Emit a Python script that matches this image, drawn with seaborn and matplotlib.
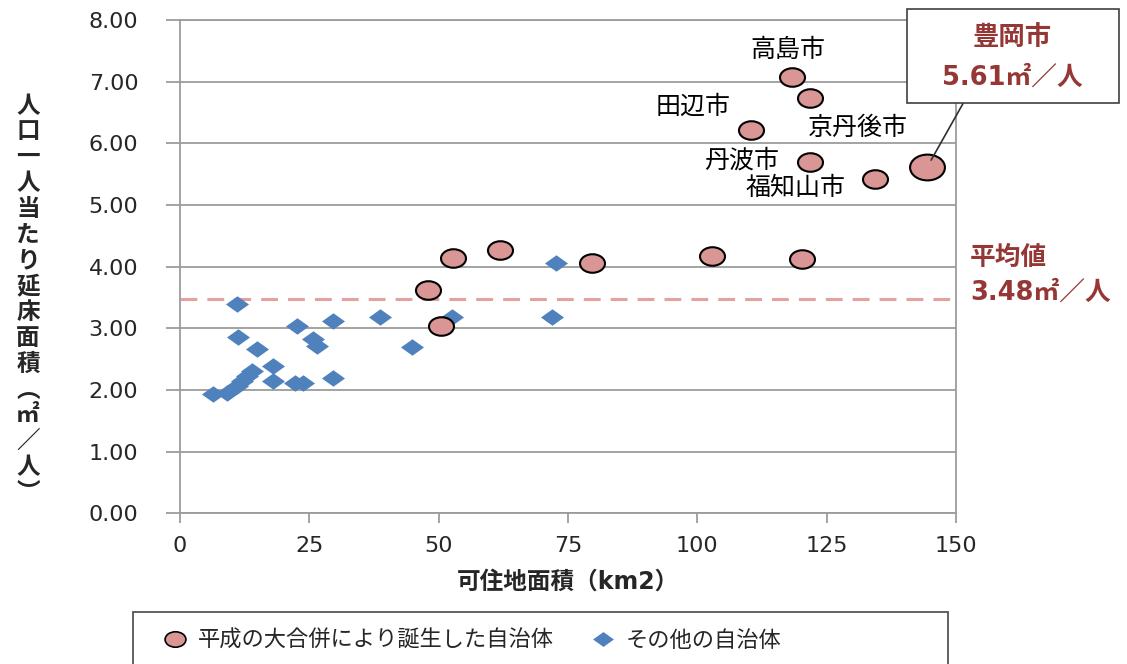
import numpy as np
import pandas as pd
import matplotlib
matplotlib.use('Agg')
import matplotlib.pyplot as plt
from matplotlib.path import Path
from matplotlib.transforms import Affine2D
from matplotlib.patches import Rectangle
from matplotlib.lines import Line2D
import seaborn as sns

# 平成の大合併により誕生した自治体 (可住地面積 km2, 一人当たり延床面積 ㎡/人)
merged_area = [47.9, 50.5, 52.8, 61.9, 79.6, 102.8, 120.2, 118.3, 121.8, 110.4, 121.8, 134.4]
merged_floor = [3.62, 3.03, 4.14, 4.27, 4.06, 4.17, 4.12, 7.08, 6.74, 6.21, 5.70, 5.42]
merged_names = ['', '', '', '', '', '', '', '高島市', '京丹後市', '田辺市', '丹波市', '福知山市']

# 豊岡市
toyooka_area = 144.4
toyooka_floor = 5.61

# その他の自治体
other_area = [6.4, 9.0, 11.0, 11.9, 12.9, 13.9, 18.0, 18.0, 22.2, 23.8, 29.6,
              11.0, 11.3, 14.8, 22.6, 25.8, 26.4, 29.6, 38.7, 44.8, 52.6, 71.9, 72.7]
other_floor = [1.93, 1.95, 2.06, 2.14, 2.22, 2.30, 2.39, 2.14, 2.12, 2.12, 2.20,
               3.40, 2.86, 2.66, 3.03, 2.83, 2.71, 3.12, 3.18, 2.69, 3.18, 3.18, 4.06]

avg_floor = 3.48

x_ticks = [0, 25, 50, 75, 100, 125, 150]
y_ticks = [0, 1, 2, 3, 4, 5, 6, 7, 8]

# label offsets in pixels from each point
label_offsets = {'高島市': (-4, 27), '京丹後市': (48, -30), '田辺市': (-58, 24),
                 '丹波市': (-69, 1), '福知山市': (-80, -9)}

PINK = '#D99694'
BLUE = '#4F81BD'
DARKRED = '#953735'
GRAY = '#9c9c9c'

sns.set_style('white')
plt.rcParams['font.family'] = ['DejaVu Sans', 'Noto Sans CJK JP']

# stretched markers (the reference is slightly wide)
ellipse = Affine2D().scale(1.35, 1.0).transform_path(Path.unit_circle())
diamond = Path([(-1.4, 0), (0, 1), (1.4, 0), (0, -1), (-1.4, 0)],
               [Path.MOVETO, Path.LINETO, Path.LINETO, Path.LINETO, Path.CLOSEPOLY])

merged = pd.DataFrame({'area': merged_area, 'floor': merged_floor, 'name': merged_names})
others = pd.DataFrame({'area': other_area, 'floor': other_floor})

W, H = 1127, 664
fig = plt.figure(figsize=(W / 100, H / 100), dpi=100)
ax = fig.add_axes([180 / W, 1 - 513.3 / H, 776 / W, 493.3 / H])

ax.axhline(avg_floor, color='#E3A1A0', lw=2.2, linestyle=(0, (5.5, 3.3)), zorder=1.5)

sns.scatterplot(data=others, x='area', y='floor', marker=diamond, s=275,
                color=BLUE, linewidth=0, ax=ax, zorder=3)
sns.scatterplot(data=merged, x='area', y='floor', marker=ellipse, s=324,
                color=PINK, edgecolor='black', linewidth=1.5, ax=ax, zorder=3)
sns.scatterplot(x=[toyooka_area], y=[toyooka_floor], marker=ellipse, s=630,
                color=PINK, edgecolor='black', linewidth=1.5, ax=ax, zorder=3)

for _, row in merged.iterrows():
    if row['name']:
        dx, dy = label_offsets[row['name']]
        ax.annotate(row['name'], xy=(row['area'], row['floor']), xytext=(dx, dy),
                    textcoords='offset pixels', ha='center', va='center',
                    fontsize=18, color='black', zorder=4)

ax.set_xlim(0, 150)
ax.set_ylim(0, 8)
ax.set_xticks(x_ticks)
ax.set_yticks(y_ticks)
ax.set_yticklabels([f'{v:.2f}' for v in y_ticks])
ax.yaxis.grid(True, color=GRAY, lw=1.3)
ax.xaxis.grid(False)
ax.set_axisbelow(True)
for sp in ax.spines.values():
    sp.set_visible(True)
    sp.set_color(GRAY)
    sp.set_linewidth(1.3)
ax.tick_params(axis='y', left=True, length=10, width=1.3, color=GRAY, pad=20, labelsize=16)
ax.tick_params(axis='x', bottom=True, length=7, width=1.3, color=GRAY, pad=9, labelsize=16)
ax.set_xlabel('可住地面積（km2）', fontsize=17, fontweight='bold', labelpad=10)
ax.set_ylabel('')

# vertical y label
ylabel_chars = list('人口一人当たり延床面積︵㎡／人︶')
for i, ch in enumerate(ylabel_chars):
    fig.text(28 / W, 1 - (105.7 + i * 25.8) / H, ch, ha='center', va='center',
             fontsize=17, fontweight='bold')

# 豊岡市 callout
fig.patches.append(Rectangle((907 / W, 1 - 103 / H), 212 / W, 94 / H, transform=fig.transFigure,
                             facecolor='white', edgecolor='#404040', lw=1.2, zorder=5))
fig.text(1012 / W, 1 - 38 / H, '豊岡市', ha='center', va='center', fontsize=19,
         fontweight='bold', color=DARKRED, zorder=6)
fig.text(1012 / W, 1 - 78 / H, '5.61㎡／人', ha='center', va='center', fontsize=18.5,
         fontweight='bold', color=DARKRED, zorder=6)
ax.annotate('', xy=(toyooka_area, toyooka_floor), xytext=(965, H - 100),
            textcoords='figure pixels',
            arrowprops=dict(arrowstyle='-', color='#303030', lw=1.2, shrinkA=0, shrinkB=6),
            zorder=4)

# average label
fig.text(970 / W, 1 - 258 / H, '平均値', ha='left', va='center', fontsize=18.5,
         fontweight='bold', color=DARKRED)
fig.text(970 / W, 1 - 293 / H, f'{avg_floor:.2f}㎡／人', ha='left', va='center', fontsize=18.5,
         fontweight='bold', color=DARKRED)

# legend
fig.patches.append(Rectangle((133 / W, 1 - 672 / H), 815 / W, 60 / H, transform=fig.transFigure,
                             facecolor='white', edgecolor='#555555', lw=1.3, zorder=1))
handles = [Line2D([], [], marker=ellipse, markersize=15, markerfacecolor=PINK,
                  markeredgecolor='black', markeredgewidth=1.2, linestyle='none'),
           Line2D([], [], marker=diamond, markersize=15, markerfacecolor=BLUE,
                  markeredgewidth=0, linestyle='none')]
leg = fig.legend(handles, ['平成の大合併により誕生した自治体', 'その他の自治体'],
                 loc='center left', bbox_to_anchor=(153 / W, 1 - 640 / H), ncol=2,
                 frameon=False, fontsize=16, borderpad=0, handlelength=1.0,
                 handletextpad=0.5, columnspacing=1.75)
leg.set_zorder(6)

fig.savefig('out.png', dpi=100)
